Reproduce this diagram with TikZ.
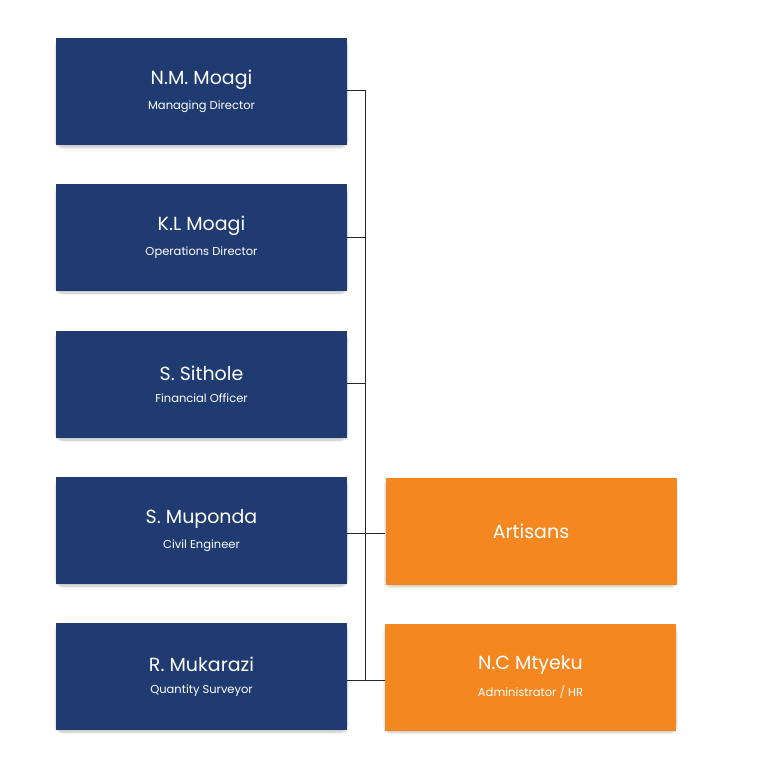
\documentclass[tikz,border=0pt]{standalone}
\usepackage{fontspec}
\setmainfont{Poppins}
\usetikzlibrary{shadows.blur}
\definecolor{bl}{HTML}{203B72}
\definecolor{or}{HTML}{F58720}
\begin{document}
\begin{tikzpicture}[x=1pt,y=-1pt,
 box/.style={minimum width=291pt,minimum height=107pt,inner sep=0pt,text=white,align=center,blur shadow={shadow blur steps=8,shadow xshift=0pt,shadow yshift=-2pt,shadow opacity=25,shadow blur extra rounding=6pt}},
 b/.style={box,fill=bl},
 o/.style={box,fill=or},
 ln/.style={draw=black!85,line width=0.9pt}]
\useasboundingbox (0,0) rectangle (768,768);
\newcommand\boxtxt[2]{{\fontsize{19}{22}\selectfont #1}\\[10pt]{\fontsize{11.5}{14}\selectfont #2}}
\node[b] (a) at (201.5,91.5) {\boxtxt{N.M. Moagi}{Managing Director}};
\node[b] (k) at (201.5,237.5) {\boxtxt{K.L Moagi}{Operations Director}};
\node[b] (s) at (201.5,384.5) {\boxtxt{S. Sithole}{Financial Officer}};
\node[b] (m) at (201.5,530.5) {\boxtxt{S. Muponda}{Civil Engineer}};
\node[b] (r) at (201.5,676.5) {\boxtxt{R. Mukarazi}{Quantity Surveyor}};
\node[o] (art) at (531,531) {{\fontsize{19}{22}\selectfont Artisans}};
\node[o] (nc) at (530.5,677) {\boxtxt{N.C Mtyeku}{Administrator / HR}};
\coordinate (top) at (365,90);
\coordinate (bot) at (365,680);
\draw[ln] (a.east|-top) -- (top) -- (bot);
\draw[ln] (k.east|-0,237) -- (365,237);
\draw[ln] (s.east|-0,383) -- (365,383);
\draw[ln] (m.east|-0,533) -- (art.west|-0,533);
\draw[ln] (r.east|-bot) -- (nc.west|-bot);
\end{tikzpicture}
\end{document}
